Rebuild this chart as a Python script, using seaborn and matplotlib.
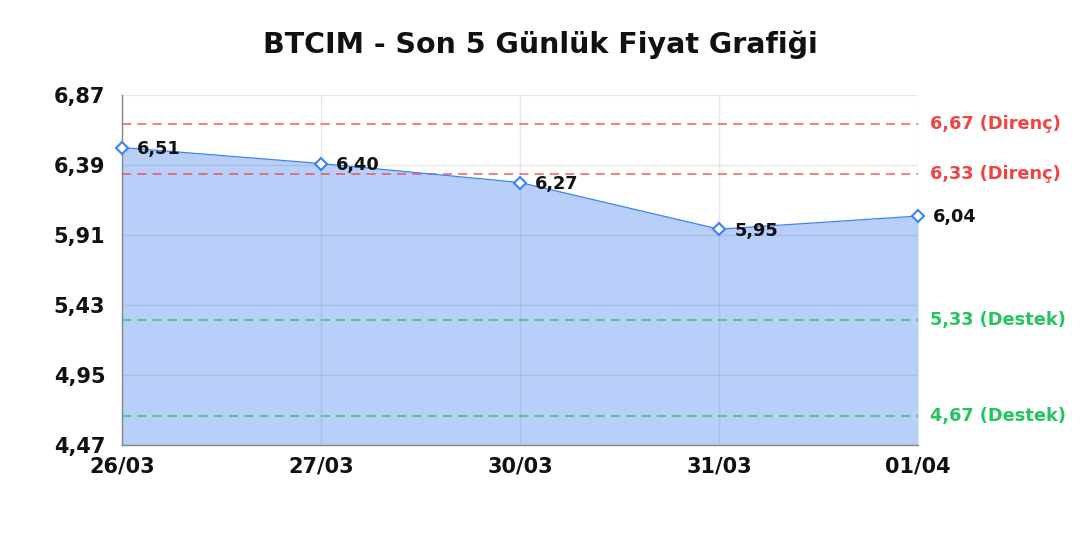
import matplotlib
matplotlib.use("Agg")
import matplotlib.pyplot as plt
import seaborn as sns

# chart data
dates = ["26/03", "27/03", "30/03", "31/03", "01/04"]
prices = [6.51, 6.40, 6.27, 5.95, 6.04]
resistance = [6.67, 6.33]
support = [5.33, 4.67]
y_ticks = [4.47, 4.95, 5.43, 5.91, 6.39, 6.87]

sns.set_theme(style="white")
plt.rcParams['font.family'] = ['DejaVu Sans']

fig = plt.figure(figsize=(10.8, 5.4), dpi=100)
ax = fig.add_axes([122 / 1080, 1 - 445 / 540, (918 - 122) / 1080, (445 - 95) / 540])

pos = list(range(len(dates)))

# area under the price line
ax.fill_between(pos, prices, y_ticks[0], color="#b7cff9", zorder=0.3, lw=0)
sns.lineplot(x=pos, y=prices, ax=ax, color="#3b82f6", lw=0.9,
             marker="D", markersize=6, markerfacecolor="white",
             markeredgecolor="#3b82f6", markeredgewidth=1.5,
             clip_on=False, zorder=5)

for x, v in zip(pos, prices):
    ax.annotate(f"{v:.2f}".replace(".", ","), (x, v), xytext=(11, -1),
                textcoords="offset points", va="center", ha="left",
                fontsize=12.8, fontweight="bold", color="#111111", zorder=6)

# support / resistance levels
for lvl in resistance:
    ax.axhline(lvl, color="#ef4444", lw=1.1, ls=(0, (6, 4)), alpha=0.85, zorder=3)
    ax.text(1.015, lvl, f"{lvl:.2f} (Direnç)".replace(".", ","), transform=ax.get_yaxis_transform(),
            va="center", ha="left", color="#ef4444", fontsize=12.8, fontweight="bold")
for lvl in support:
    ax.axhline(lvl, color="#22c55e", lw=1.1, ls=(0, (6, 4)), alpha=0.9, zorder=3)
    ax.text(1.015, lvl, f"{lvl:.2f} (Destek)".replace(".", ","), transform=ax.get_yaxis_transform(),
            va="center", ha="left", color="#22c55e", fontsize=12.8, fontweight="bold")

ax.set_xlim(0, len(dates) - 1)
ax.set_ylim(y_ticks[0], y_ticks[-1])
ax.set_xticks(pos, dates)
ax.set_yticks(y_ticks, [f"{t:.2f}".replace(".", ",") for t in y_ticks])
ax.tick_params(axis="both", length=0, labelsize=15, colors="#111111")
ax.tick_params(axis="y", pad=12)
ax.tick_params(axis="x", pad=8)
for lab in ax.get_xticklabels() + ax.get_yticklabels():
    lab.set_fontweight("bold")

ax.grid(True, color="#5a6a80", alpha=0.15, lw=1)
ax.set_axisbelow(True)
sns.despine(ax=ax, top=True, right=True)
for s in ("left", "bottom"):
    ax.spines[s].set_color("#888888")
    ax.spines[s].set_linewidth(1)
ax.set_xlabel("")
ax.set_ylabel("")

fig.text(0.5, 1 - 45 / 540, "BTCIM - Son 5 Günlük Fiyat Grafiği", ha="center", va="center",
         fontsize=20.5, fontweight="bold", color="#111111")

fig.savefig("out.png", dpi=100)
